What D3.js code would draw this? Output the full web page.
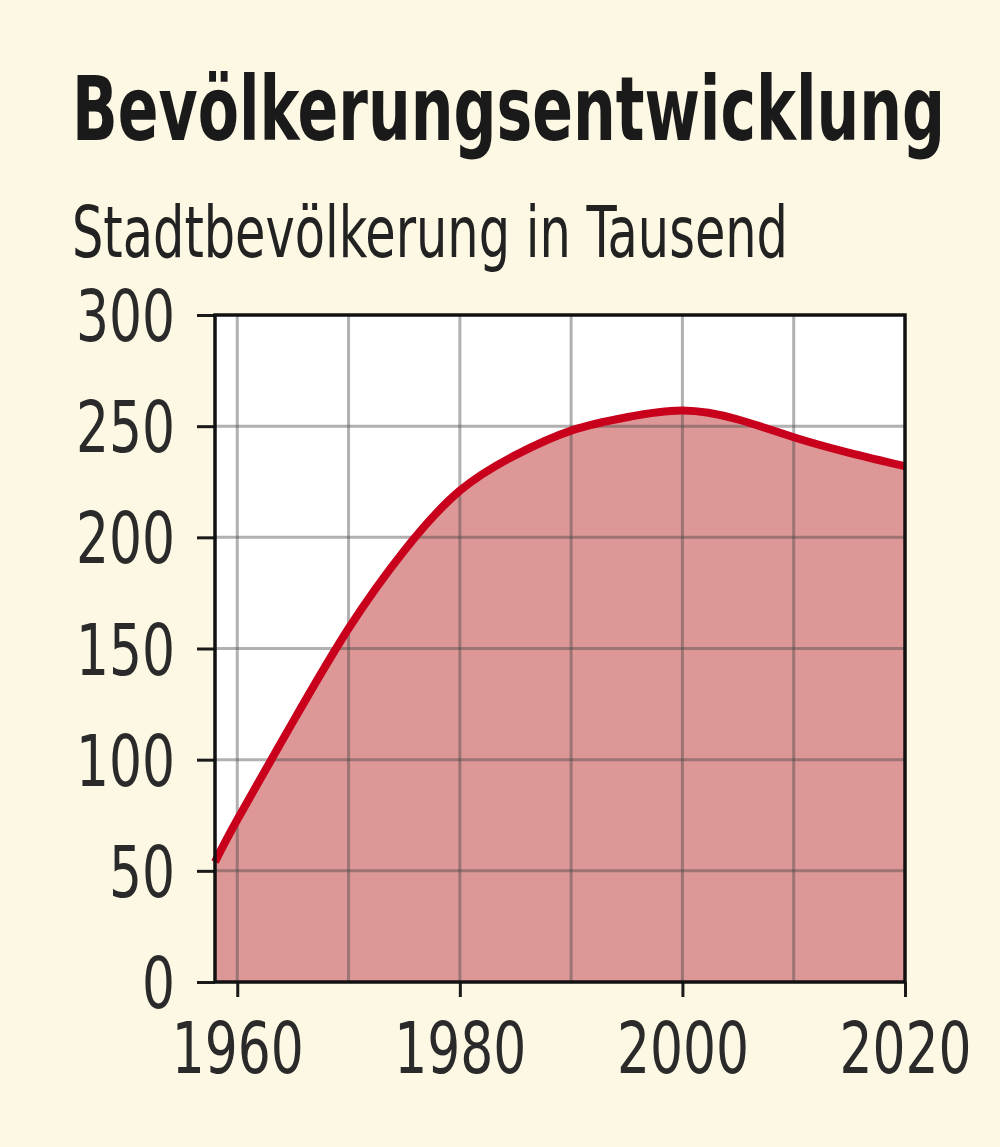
<!DOCTYPE html>
<html>
<head>
<meta charset="utf-8">
<script src="https://cdn.jsdelivr.net/npm/d3@7"></script>
<style>
  body { margin: 0; background: #fdf8e3; }
  text { font-family: "Liberation Sans Narrow", "DejaVu Sans Condensed", "Liberation Sans", sans-serif; fill: #222; }
</style>
</head>
<body>
<script>
// Values (population in thousand)
var years = [1958, 1960, 1965, 1970, 1975, 1980, 1985, 1990, 1995, 2000, 2005, 2010, 2015, 2020];
var population = [54, 73, 117, 159, 194, 221, 237, 248, 254, 257, 253, 245, 238, 232];
var yTicks = [0, 50, 100, 150, 200, 250, 300];
var xLabels = [1960, 1980, 2000, 2020];
var xGrid = [1960, 1970, 1980, 1990, 2000, 2010];

var title = "Bevölkerungsentwicklung";
var subtitle = "Stadtbevölkerung in Tausend";

var width = 1000, height = 1147;
var plotLeft = 215, plotRight = 905, plotTop = 315, plotBottom = 982;

var data = years.map(function (d, i) { return { year: d, value: population[i] }; });

var svg = d3.select("body")
	.append("svg")
		.attr("width", width)
		.attr("height", height);

svg.append("rect")
	.attr("width", width)
	.attr("height", height)
	.attr("fill", "#fdf8e3");

var x = d3.scaleLinear().domain([1958, 2020]).range([plotLeft, plotRight]);
var y = d3.scaleLinear().domain([0, 300]).range([plotBottom, plotTop]);

// Titles
svg.append("text")
	.attr("x", 72)
	.attr("y", 140)
	.attr("font-size", 89)
	.attr("font-weight", "bold")
	.attr("textLength", 873)
	.attr("lengthAdjust", "spacingAndGlyphs")
	.style("fill", "#1a1a1a")
	.text(title);

svg.append("text")
	.attr("x", 72)
	.attr("y", 257)
	.attr("font-size", 71)
	.attr("textLength", 716)
	.attr("lengthAdjust", "spacingAndGlyphs")
	.text(subtitle);

// plot background
svg.append("rect")
	.attr("x", plotLeft)
	.attr("y", plotTop)
	.attr("width", plotRight - plotLeft)
	.attr("height", plotBottom - plotTop)
	.attr("fill", "#ffffff");

// area under curve
var curve = d3.curveNatural;

var area = d3.area()
	.x(function (d) { return x(d.year); })
	.y0(y(0))
	.y1(function (d) { return y(d.value); })
	.curve(curve);

svg.append("path")
	.datum(data)
	.attr("d", area)
	.attr("fill", "#dd9797");

// gridlines
var grid = svg.append("g")
	.attr("stroke", "rgba(70,70,70,0.42)")
	.attr("stroke-width", 3);

grid.selectAll("line.h")
	.data(yTicks.filter(function (d) { return d > 0 && d < 300; }))
	.enter()
	.append("line")
		.attr("x1", plotLeft)
		.attr("x2", plotRight)
		.attr("y1", function (d) { return y(d); })
		.attr("y2", function (d) { return y(d); });

grid.selectAll("line.v")
	.data(xGrid)
	.enter()
	.append("line")
		.attr("x1", function (d) { return x(d); })
		.attr("x2", function (d) { return x(d); })
		.attr("y1", plotTop)
		.attr("y2", plotBottom);

// the line
var line = d3.line()
	.x(function (d) { return x(d.year); })
	.y(function (d) { return y(d.value); })
	.curve(curve);

svg.append("path")
	.datum(data)
	.attr("d", line)
	.attr("fill", "none")
	.attr("stroke", "#c8001b")
	.attr("stroke-width", 8)
	.attr("stroke-linecap", "butt");

// axes
var yAxis = d3.axisLeft(y)
	.tickValues(yTicks)
	.tickSize(18)
	.tickPadding(22)
	.tickFormat(d3.format("d"));

var xAxis = d3.axisBottom(x)
	.tickValues(xLabels)
	.tickSize(15)
	.tickPadding(26)
	.tickFormat(d3.format("d"));

var gy = svg.append("g")
	.attr("transform", "translate(" + plotLeft + ",0)")
	.call(yAxis);

var gx = svg.append("g")
	.attr("transform", "translate(0," + plotBottom + ")")
	.call(xAxis);

[gx, gy].forEach(function (g) {
	g.attr("font-family", null);
	g.select(".domain").remove();
	g.selectAll(".tick line").attr("stroke", "#1a1a1a").attr("stroke-width", 3);
	g.selectAll(".tick text")
		.attr("font-size", 71)
		.attr("textLength", function (d) { return String(d).length * 33; })
		.attr("lengthAdjust", "spacingAndGlyphs")
		.style("fill", "#2a2a2a");
});
gy.selectAll(".tick text").attr("dy", "0.36em");
gx.selectAll(".tick text").attr("dy", "0.71em");

// frame
svg.append("rect")
	.attr("x", plotLeft)
	.attr("y", plotTop)
	.attr("width", plotRight - plotLeft)
	.attr("height", plotBottom - plotTop)
	.attr("fill", "none")
	.attr("stroke", "#111")
	.attr("stroke-width", 3.5);
</script>
</body>
</html>
